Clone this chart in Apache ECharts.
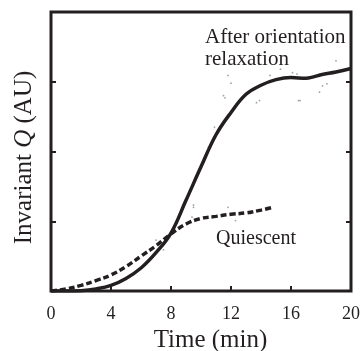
<!DOCTYPE html>
<html>
<head>
<meta charset="utf-8">
<script src="https://cdn.jsdelivr.net/npm/echarts@6/dist/echarts.min.js"></script>
<style>html,body{margin:0;padding:0;background:#fff}#c{width:360px;height:351px}</style>
</head>
<body>
<div id="c"></div>
<script>
// Time (min) and invariant Q (AU)
var relaxedTime = [0, 1, 2, 3, 4, 5, 6, 7, 8, 9, 10, 11, 12, 13, 14, 15, 16, 17, 17.5, 18, 19, 20];
var relaxedQ    = [0, 0, 0.005, 0.03, 0.08, 0.18, 0.33, 0.55, 0.83, 1.3, 1.78, 2.24, 2.56, 2.82, 2.95, 3.03, 3.06, 3.05, 3.07, 3.1, 3.14, 3.19];
var quiescentTime = [0, 1, 2, 3, 4, 5, 6, 7, 8, 9, 10, 11, 12, 13, 14, 14.8];
var quiescentQ    = [0, 0.03, 0.08, 0.15, 0.23, 0.35, 0.5, 0.65, 0.82, 0.96, 1.04, 1.07, 1.1, 1.12, 1.16, 1.2];
var rawTime = [11.8, 12.0, 11.5, 13.7, 14.6, 16.4, 16.5, 17.9, 18.4, 19.0, 10.5, 10.9, 11.6, 13.9, 16.6, 18.1, 16.1, 15.3,
               11.8, 13.3, 14.4, 9.5, 12.3, 7.0, 9.5, 9.4, 7.5];
var rawQ    = [3.09, 2.98, 2.8, 2.7, 3.09, 3.11, 2.73, 2.85, 2.97, 3.3, 2.06, 2.35, 2.77, 2.73, 2.73, 2.94, 3.13, 3.18,
               1.2, 1.11, 1.2, 1.2, 1.01, 0.73, 1.23, 1.06, 0.59];
var xTicks = [0, 4, 8, 12, 16, 20];
var yTicks = [0, 1, 2, 3, 4];

function pairs(xs, ys) { return xs.map(function (x, i) { return [x, ys[i]]; }); }

var ink = '#231f20';
var serif = '"Liberation Serif", "DejaVu Serif", serif';
var chart = echarts.init(document.getElementById('c'), null, { renderer: 'canvas' });
chart.setOption({
  animation: false,
  backgroundColor: '#fff',
  grid: { left: 51, right: 9, top: 12, bottom: 60, outerBoundsMode: 'none', containLabel: false,
          show: true, borderColor: ink, borderWidth: 3, backgroundColor: 'transparent' },
  xAxis: {
    type: 'value', min: xTicks[0], max: xTicks[xTicks.length - 1], interval: 4,
    name: 'Time (min)', nameLocation: 'middle', nameGap: 35,
    nameTextStyle: { fontFamily: serif, fontSize: 25, color: ink, padding: [0, 0, 0, 19] },
    axisLine: { show: false },
    axisTick: { show: true, inside: true, length: 5, lineStyle: { color: ink, width: 2 } },
    axisLabel: { fontFamily: serif, fontSize: 18, color: ink, margin: 14, showMaxLabel: true, showMinLabel: true },
    splitLine: { show: false }
  },
  yAxis: [{
    type: 'value', min: yTicks[0], max: yTicks[yTicks.length - 1], interval: 1,
    name: '{a|Invariant }{b|Q}{a| (AU)}', nameLocation: 'middle', nameGap: 14,
    nameTextStyle: { fontFamily: serif, fontSize: 25, color: ink, padding: [0, 12, 0, 0],
      rich: { a: { fontFamily: serif, fontSize: 25, color: ink }, b: { fontFamily: serif, fontSize: 25, color: ink, fontStyle: 'italic' } } },
    axisLine: { show: false },
    axisTick: { show: true, inside: true, length: 5, lineStyle: { color: ink, width: 2 } },
    axisLabel: { show: false },
    splitLine: { show: false }
  }, {
    type: 'value', position: 'right', min: yTicks[0], max: yTicks[yTicks.length - 1], interval: 1,
    axisLine: { show: false },
    axisTick: { show: true, inside: true, length: 5, lineStyle: { color: ink, width: 2 } },
    axisLabel: { show: false },
    splitLine: { show: false }
  }],
  series: [{
    name: 'raw', type: 'scatter', data: pairs(rawTime, rawQ), symbolSize: 1.8,
    itemStyle: { color: '#8a8a8a' }, silent: true, z: 1
  }, {
    name: 'Quiescent', type: 'line', data: pairs(quiescentTime, quiescentQ), smooth: 0.4, showSymbol: false,
    lineStyle: { color: ink, width: 3.5, type: [6, 3] }, z: 2
  }, {
    name: 'After orientation relaxation', type: 'line', data: pairs(relaxedTime, relaxedQ), smooth: 0.4, showSymbol: false,
    lineStyle: { color: ink, width: 3.5 }, z: 3
  }],
  graphic: [{
    type: 'text', left: 205, top: 26,
    style: { text: 'After orientation\nrelaxation', font: '21px ' + serif, fill: ink, lineHeight: 22 }
  }, {
    type: 'text', left: 216, top: 229,
    style: { text: 'Quiescent', font: '20px ' + serif, fill: ink }
  }]
});
</script>
</body>
</html>
